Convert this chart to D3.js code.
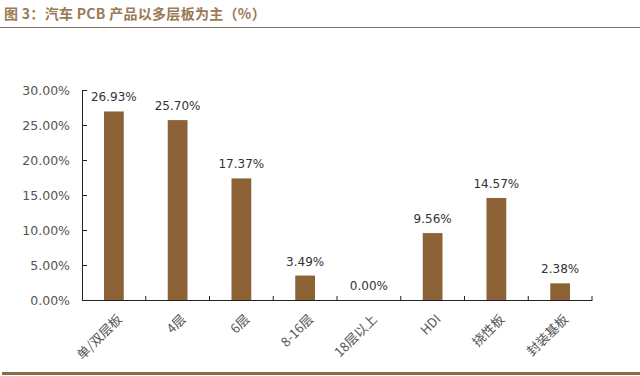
<!DOCTYPE html>
<html><head><meta charset="utf-8">
<script src="https://cdn.jsdelivr.net/npm/d3@7"></script>
<style>
html,body{margin:0;padding:0;background:#fff;}
svg{display:block;}
</style></head>
<body>
<script>
const categories = ["单/双层板","4层","6层","8-16层","18层以上","HDI","挠性板","封装基板"];
const values = [26.93, 25.70, 17.37, 3.49, 0.00, 9.56, 14.57, 2.38];
const yTicks = [0, 5, 10, 15, 20, 25, 30];
const title = "图 3：汽车 PCB 产品以多层板为主（%）";

const W = 640, H = 376;
const svg = d3.select("body").append("svg").attr("width", W).attr("height", H);

const m = {left: 82, right: 48, top: 90, bottom: 76};
const x = d3.scaleBand().domain(categories).range([m.left, W - m.right]).paddingInner(0.69).paddingOuter(0.345);
const xb = d3.scaleBand().domain(categories).range([m.left, W - m.right]);
const y = d3.scaleLinear().domain([0, 30]).range([H - m.bottom, m.top]);

// title
svg.append("text").attr("x", 4).attr("y", 19)
  .attr("font-family", "'Noto Sans CJK SC', sans-serif").attr("font-size", 14).attr("font-weight", "bold")
  .attr("letter-spacing", 0.3)
  .attr("fill", "#9a7a55").text(title);
svg.append("line").attr("x1", 0).attr("x2", W).attr("y1", 27.5).attr("y2", 27.5)
  .attr("stroke", "#8a7060").attr("stroke-width", 1);
svg.append("line").attr("x1", 2).attr("x2", W).attr("y1", 373.5).attr("y2", 373.5)
  .attr("stroke", "#8c6a40").attr("stroke-width", 3);

// bars
svg.selectAll("rect.bar").data(values).join("rect").attr("class", "bar")
  .attr("x", (d, i) => x(categories[i])).attr("width", x.bandwidth())
  .attr("y", d => y(d)).attr("height", d => y(0) - y(d))
  .attr("fill", "#8c6236");

// value labels
svg.selectAll("text.val").data(values).join("text").attr("class", "val")
  .attr("x", (d, i) => x(categories[i]) + x.bandwidth() / 2)
  .attr("y", d => y(d) - 10)
  .attr("text-anchor", "middle")
  .attr("font-family", "'DejaVu Sans', sans-serif").attr("font-size", 12)
  .attr("fill", "#333").text(d => d.toFixed(2) + "%");

// y axis
const yAxis = svg.append("g").attr("transform", `translate(${m.left},0)`)
  .call(d3.axisLeft(y).tickValues(yTicks).tickSize(-5).tickPadding(12).tickFormat(d => d.toFixed(2) + "%"));
yAxis.select(".domain").attr("stroke", "#222");
yAxis.selectAll(".tick line").attr("stroke", "#222");
yAxis.selectAll("text").attr("font-family", "'DejaVu Sans', sans-serif").attr("font-size", 12.5).attr("fill", "#555");

// x axis
const xAxis = svg.append("g").attr("transform", `translate(0,${y(0)})`)
  .call(d3.axisBottom(xb).tickSize(0).tickFormat(""));
xAxis.select(".domain").attr("stroke", "#222");
xAxis.selectAll(".tick").remove();
const bounds = categories.map(c => xb(c) + xb.bandwidth());
svg.selectAll("line.xt").data(bounds).join("line").attr("class", "xt")
  .attr("x1", d => d).attr("x2", d => d).attr("y1", y(0)).attr("y2", y(0) - 4)
  .attr("stroke", "#222");

// x labels
svg.selectAll("text.xl").data(categories).join("text").attr("class", "xl")
  .attr("transform", d => `translate(${xb(d) + xb.bandwidth() / 2 + 9},${y(0) + 20}) rotate(-45)`)
  .attr("text-anchor", "end")
  .attr("font-family", "'Noto Sans CJK SC', sans-serif").attr("font-size", 13)
  .attr("fill", "#555").text(d => d);
</script>
</body></html>
